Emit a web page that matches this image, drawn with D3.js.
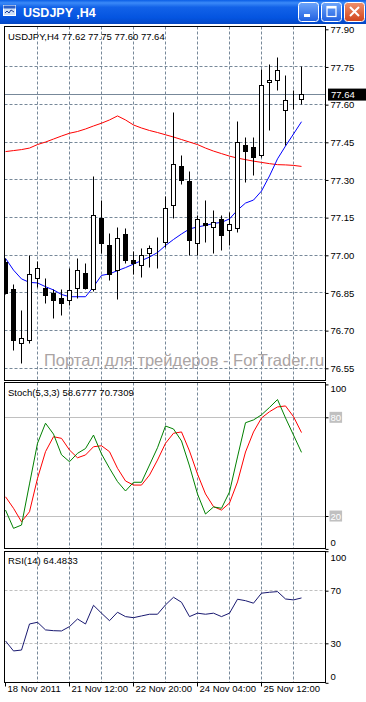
<!DOCTYPE html>
<html>
<head>
<meta charset="utf-8">
<script src="https://cdn.jsdelivr.net/npm/d3@7"></script>
<style>
  body { margin: 0; background: #ffffff; }
  text { font-family: "Liberation Sans", Arial, sans-serif; }
</style>
</head>
<body>
<script>
// bar times (H4)
var times = [
  "2011.11.18 04:00","2011.11.18 08:00","2011.11.18 12:00","2011.11.18 16:00","2011.11.18 20:00",
  "2011.11.21 00:00","2011.11.21 04:00","2011.11.21 08:00","2011.11.21 12:00","2011.11.21 16:00","2011.11.21 20:00",
  "2011.11.22 00:00","2011.11.22 04:00","2011.11.22 08:00","2011.11.22 12:00","2011.11.22 16:00","2011.11.22 20:00",
  "2011.11.23 00:00","2011.11.23 04:00","2011.11.23 08:00","2011.11.23 12:00","2011.11.23 16:00","2011.11.23 20:00",
  "2011.11.24 00:00","2011.11.24 04:00","2011.11.24 08:00","2011.11.24 12:00","2011.11.24 16:00","2011.11.24 20:00",
  "2011.11.25 00:00","2011.11.25 04:00","2011.11.25 08:00","2011.11.25 12:00","2011.11.25 16:00","2011.11.25 20:00",
  "2011.11.28 00:00","2011.11.28 04:00","2011.11.28 08:00"
];

var open  = [76.970,76.862,76.650,76.660,76.908,76.869,76.849,76.829,76.819,76.869,76.928,76.862,77.147,77.041,76.941,77.081,76.981,76.959,77.009,77.038,77.049,77.200,77.353,77.293,77.048,77.127,77.109,77.141,77.097,77.107,77.439,77.431,77.397,77.689,77.698,77.576,77.609,77.620];
var high  = [76.988,76.882,76.782,77.001,76.974,76.908,76.862,76.862,76.948,76.988,76.968,77.313,77.220,77.088,77.110,77.105,77.015,77.029,77.041,77.069,77.236,77.569,77.399,77.333,77.160,77.220,77.180,77.160,77.172,77.532,77.471,77.471,77.738,77.760,77.789,77.718,77.658,77.750];
var low   = [76.842,76.620,76.570,76.650,76.870,76.809,76.749,76.762,76.802,76.829,76.862,76.855,77.008,76.900,76.822,76.969,76.925,76.910,76.951,76.949,77.033,77.148,77.280,77.001,77.001,77.049,77.009,77.021,77.041,77.089,77.290,77.318,77.391,77.495,77.655,77.439,77.579,77.600];
var close = [76.849,76.660,76.669,76.922,76.948,76.839,76.819,76.809,76.859,76.941,76.869,77.160,77.048,76.925,77.068,76.981,76.967,77.001,77.029,77.041,77.188,77.360,77.297,77.058,77.141,77.117,77.129,77.077,77.121,77.450,77.415,77.389,77.678,77.698,77.735,77.618,77.610,77.640];

var maSlow = [77.413,77.417,77.421,77.427,77.441,77.451,77.463,77.475,77.486,77.493,77.503,77.515,77.526,77.539,77.555,77.539,77.519,77.507,77.497,77.489,77.480,77.471,77.461,77.451,77.441,77.427,77.415,77.405,77.395,77.387,77.381,77.375,77.370,77.365,77.361,77.360,77.358,77.354];
var maFast = [76.988,76.941,76.906,76.892,76.890,76.875,76.862,76.844,76.835,76.835,76.835,76.875,76.920,76.926,76.939,76.951,76.965,76.979,76.993,77.011,77.039,77.063,77.085,77.105,77.113,77.119,77.127,77.131,77.145,77.180,77.208,77.220,77.256,77.316,77.384,77.435,77.483,77.532];

var stochK = [23.6,12.5,14.5,39.5,64.2,76.4,69.8,57.2,53.0,58.1,61.0,69.2,57.7,49.0,40.9,35.2,40.5,40.5,51.0,61.5,74.7,72.9,65.6,50.4,33.4,21.2,25.5,24.7,34.6,55.9,76.7,78.4,81.5,86.0,90.8,79.6,69.2,58.68];
var stochD = [31.7,24.7,16.5,22.6,42.9,59.1,68.2,67.2,60.1,55.4,57.1,62.1,62.7,59.1,49.0,41.3,38.8,38.8,44.9,54.0,64.2,70.3,71.1,59.5,45.5,33.4,25.7,23.6,27.9,40.7,58.9,71.1,79.6,83.4,86.3,86.9,80.4,70.73];
var rsi    = [31.8,24.2,24.9,44.7,46.0,40.2,39.6,39.4,42.7,48.5,44.7,58.9,52.9,47.2,53.6,50.3,49.5,50.8,52.1,52.1,59.2,65.0,61.2,50.3,52.9,52.1,52.9,50.3,52.9,63.5,62.4,60.5,68.1,68.8,69.3,63.7,63.0,64.48];

var priceTicks = [77.90,77.75,77.60,77.45,77.30,77.15,77.00,76.85,76.70,76.55];
var stochTicks = [100,80,20,0];
var stochLevels = [80,20];
var rsiTicks = [100,70,30,0];
var rsiLevels = [70,30];
var gridBars = [4,8,12,16,20,24,28,32,36];
var labelBars = [0,8,16,24,32];
var bid = 77.64;

var W = 366, H = 702;
var L = 4.5, R = 325.5;
var main = {top: 26.5, bot: 380.5};
var st = {top: 382.5, bot: 548.5};
var rs = {top: 551.5, bot: 682.5};

var font = "9.5px";
var grid = "#778899";

var svg = d3.select("body").append("svg").attr("width", W).attr("height", H);
var defs = svg.append("defs");

var x = d3.scaleBand().domain(times).range([1.5, 1.5 + 8 * times.length]);
function cx(i) { return x(times[i]) + x.bandwidth() / 2; }
function cr(v) { return Math.round(v - 0.5) + 0.5; }

var yP = d3.scaleLinear().domain([76.55, 77.90]).range([368.3, 29.3]);
var yS = d3.scaleLinear().domain([0, 100]).range([548.9, 384.4]);
var yR = d3.scaleLinear().domain([0, 100]).range([682.8, 551.2]);

// ---------- title bar ----------
var tg = defs.append("linearGradient").attr("id", "tbar").attr("x1", 0).attr("y1", 0).attr("x2", 0).attr("y2", 1);
tg.append("stop").attr("offset", "0%").attr("stop-color", "#0a5ee6");
tg.append("stop").attr("offset", "12%").attr("stop-color", "#3b8af8");
tg.append("stop").attr("offset", "30%").attr("stop-color", "#1262e8");
tg.append("stop").attr("offset", "75%").attr("stop-color", "#0454e0");
tg.append("stop").attr("offset", "100%").attr("stop-color", "#0346c4");
svg.append("rect").attr("x", 0).attr("y", 0).attr("width", W).attr("height", 24).attr("fill", "url(#tbar)");

// little window icon
svg.append("rect").attr("x", 3.5).attr("y", 5.5).attr("width", 12).attr("height", 10)
  .attr("fill", "#cfe0f8").attr("stroke", "#ffffff");
svg.append("rect").attr("x", 3.5).attr("y", 5.5).attr("width", 12).attr("height", 3).attr("fill", "#2a5fc8");
svg.append("path").attr("d", "M5,13 L7,11 L9,13 L11,10 L14,12").attr("fill", "none").attr("stroke", "#1c3f9c");

svg.append("text").attr("x", 23).attr("y", 17).text("USDJPY ,H4")
  .attr("font-size", "12.5px").attr("font-weight", "bold").attr("fill", "#ffffff");

var bg = defs.append("linearGradient").attr("id", "btn").attr("x1", 0).attr("y1", 0).attr("x2", 0).attr("y2", 1);
bg.append("stop").attr("offset", "0%").attr("stop-color", "#6ea6fb");
bg.append("stop").attr("offset", "100%").attr("stop-color", "#1f5fe0");
var cg = defs.append("linearGradient").attr("id", "cbtn").attr("x1", 0).attr("y1", 0).attr("x2", 0).attr("y2", 1);
cg.append("stop").attr("offset", "0%").attr("stop-color", "#f0906c");
cg.append("stop").attr("offset", "100%").attr("stop-color", "#d0441c");

[298.5, 321.5, 344.5].forEach(function(bx, k) {
  svg.append("rect").attr("x", bx).attr("y", 2.5).attr("width", 20).attr("height", 19).attr("rx", 3)
    .attr("fill", k === 2 ? "url(#cbtn)" : "url(#btn)").attr("stroke", "#ffffff");
});
svg.append("rect").attr("x", 304).attr("y", 14).attr("width", 6).attr("height", 3).attr("fill", "#ffffff");
svg.append("rect").attr("x", 327).attr("y", 6.5).attr("width", 9).attr("height", 10).attr("fill", "none")
  .attr("stroke", "#ffffff").attr("stroke-width", 1.2);
svg.append("rect").attr("x", 327).attr("y", 6).attr("width", 9).attr("height", 2.5).attr("fill", "#ffffff");
svg.append("path").attr("d", "M350,7 L359,16 M359,7 L350,16").attr("stroke", "#ffffff").attr("stroke-width", 2);

// ---------- panels ----------
[main, st, rs].forEach(function(p, k) {
  defs.append("clipPath").attr("id", "clip" + k).append("rect")
    .attr("x", L).attr("y", p.top).attr("width", R - L).attr("height", p.bot - p.top);
  svg.selectAll(null).data(gridBars).enter().append("line")
    .attr("x1", function(d) { return cx(d); }).attr("x2", function(d) { return cx(d); })
    .attr("y1", p.top).attr("y2", p.bot)
    .attr("stroke", grid).attr("stroke-dasharray", "3,2");
});

// horizontal grid, main
svg.selectAll(null).data(priceTicks.slice(1)).enter().append("line")
  .attr("x1", L).attr("x2", R)
  .attr("y1", function(d) { return cr(yP(d)); }).attr("y2", function(d) { return cr(yP(d)); })
  .attr("stroke", grid).attr("stroke-dasharray", "3,2");

// watermark (kept clear of the price labels)
svg.append("text").attr("x", 44).attr("y", 366).text("Портал для трейдеров - ForTrader.ru")
  .attr("font-size", "16.5px").attr("fill", "#aaa4a4");

// bid line
svg.append("line").attr("x1", L).attr("x2", R).attr("y1", cr(yP(bid))).attr("y2", cr(yP(bid)))
  .attr("stroke", grid);

var gm = svg.append("g").attr("clip-path", "url(#clip0)");

gm.append("path").datum(maSlow)
  .attr("d", d3.line().x(function(d, i) { return cx(i); }).y(function(d) { return yP(d); }))
  .attr("fill", "none").attr("stroke", "#ff0000");
gm.append("path").datum(maFast)
  .attr("d", d3.line().x(function(d, i) { return cx(i); }).y(function(d) { return yP(d); }))
  .attr("fill", "none").attr("stroke", "#0000ff");

var idx = d3.range(times.length);
gm.selectAll(".wick").data(idx).enter().append("line")
  .attr("x1", function(i) { return cx(i); }).attr("x2", function(i) { return cx(i); })
  .attr("y1", function(i) { return cr(yP(high[i])); }).attr("y2", function(i) { return cr(yP(low[i])); })
  .attr("stroke", "#000000");
gm.selectAll(".body").data(idx).enter().append("rect")
  .attr("x", function(i) { return cx(i) - 2; })
  .attr("y", function(i) { return cr(yP(Math.max(open[i], close[i]))); })
  .attr("width", 4)
  .attr("height", function(i) { return cr(yP(Math.min(open[i], close[i]))) - cr(yP(Math.max(open[i], close[i]))); })
  .attr("fill", function(i) { return close[i] >= open[i] ? "#ffffff" : "#000000"; })
  .attr("stroke", "#000000");

// stochastic
var gs = svg.append("g").attr("clip-path", "url(#clip1)");
gs.selectAll(null).data(stochLevels).enter().append("line")
  .attr("x1", L).attr("x2", R)
  .attr("y1", function(d) { return cr(yS(d)); }).attr("y2", function(d) { return cr(yS(d)); })
  .attr("stroke", "#c0c0c0");
gs.append("path").datum(stochD)
  .attr("d", d3.line().x(function(d, i) { return cx(i); }).y(function(d) { return yS(d); }))
  .attr("fill", "none").attr("stroke", "#ff0000");
gs.append("path").datum(stochK)
  .attr("d", d3.line().x(function(d, i) { return cx(i); }).y(function(d) { return yS(d); }))
  .attr("fill", "none").attr("stroke", "#008000");

// rsi
var gr = svg.append("g").attr("clip-path", "url(#clip2)");
gr.selectAll(null).data(rsiLevels).enter().append("line")
  .attr("x1", L).attr("x2", R)
  .attr("y1", function(d) { return cr(yR(d)); }).attr("y2", function(d) { return cr(yR(d)); })
  .attr("stroke", "#c0c0c0").attr("stroke-dasharray", "3,2");
gr.append("path").datum(rsi)
  .attr("d", d3.line().x(function(d, i) { return cx(i); }).y(function(d) { return yR(d); }))
  .attr("fill", "none").attr("stroke", "#191970");

// frames
[main, st, rs].forEach(function(p) {
  svg.append("rect").attr("x", L).attr("y", p.top).attr("width", R - L).attr("height", p.bot - p.top)
    .attr("fill", "none").attr("stroke", "#000000");
});

// ---------- axes ----------
function styleAxis(g) {
  g.select(".domain").remove();
  g.selectAll("text").attr("font-size", font).attr("fill", "#000000")
    .attr("font-family", "Liberation Sans, Arial, sans-serif");
  g.selectAll("line").attr("stroke", "#000000");
}

svg.append("g").attr("transform", "translate(" + R + ",0)")
  .call(d3.axisRight(yP).tickValues(priceTicks).tickSize(3).tickPadding(2).tickFormat(d3.format(".2f")))
  .call(styleAxis);

// bid label
var by = yP(bid);
svg.append("rect").attr("x", 328).attr("y", by - 6).attr("width", 38).attr("height", 12).attr("fill", "#000000");
svg.append("text").attr("x", 331).attr("y", by + 3.5).text(d3.format(".2f")(bid))
  .attr("font-size", font).attr("fill", "#ffffff");

function levelAxis(scale, ticks, levels, top, bot) {
  var g = svg.append("g").attr("transform", "translate(" + R + ",0)")
    .call(d3.axisRight(scale).tickValues(ticks).tickSize(3).tickPadding(2))
    .call(styleAxis);
  g.selectAll(".tick").each(function(d) {
    var t = d3.select(this);
    var ty = scale(d);
    if (ty - 5 < top) t.select("text").attr("dy", (top + 6 - ty + 3) + "px");
    if (ty + 5 > bot) t.select("text").attr("dy", (bot - 6 - ty + 3) + "px");
    if (levels.indexOf(d) >= 0) {
      var bb = t.select("text").node().getBBox();
      t.insert("rect", "text").attr("x", bb.x - 1).attr("y", bb.y).attr("width", bb.width + 2).attr("height", bb.height)
        .attr("fill", "#c0c0c0");
      t.select("text").attr("fill", "#ffffff");
    }
  });
}
levelAxis(yS, stochTicks, stochLevels, st.top, st.bot);
levelAxis(yR, rsiTicks, [], rs.top, rs.bot);

// time axis
var parse = d3.timeParse("%Y.%m.%d %H:%M");
var fmtFirst = d3.timeFormat("%d %b %Y"), fmtNext = d3.timeFormat("%d %b %H:%M");
svg.append("g").attr("transform", "translate(0," + rs.bot + ")")
  .call(d3.axisBottom(x).tickValues(labelBars.map(function(i) { return times[i]; })).tickSize(4)
    .tickFormat(function(d, k) { return k === 0 ? fmtFirst(parse(d)) : fmtNext(parse(d)); }))
  .call(styleAxis)
  .selectAll("text").attr("text-anchor", "start").attr("x", 2).attr("dy", "0.3em");

// panel captions
svg.append("text").attr("x", 8).attr("y", 40).attr("font-size", font)
  .text("USDJPY,H4  " + [open[37], high[37], low[37], close[37]].map(d3.format(".2f")).join(" "));
svg.append("text").attr("x", 8).attr("y", 396).attr("font-size", font)
  .text("Stoch(5,3,3) " + d3.format(".4f")(58.6777) + " " + d3.format(".4f")(70.7309));
svg.append("text").attr("x", 8).attr("y", 564).attr("font-size", font)
  .text("RSI(14) " + d3.format(".4f")(64.4833));
</script>
</body>
</html>
